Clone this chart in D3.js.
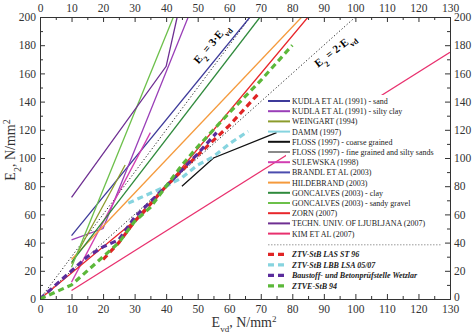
<!DOCTYPE html>
<html>
<head>
<meta charset="utf-8">
<script src="https://cdn.jsdelivr.net/npm/d3@7"></script>
<style>
  body { margin: 0; background: #fff; }
  svg { font-family: "Liberation Serif", "Times New Roman", serif; }
</style>
</head>
<body>
<script>
// data, [Evd, E2] pairs
const kudlaSand = [[10, 45], [66.6, 200]];
const kudlaSilty = [[10, 42], [20, 50], [47, 200]];
const weingart = [[10, 25], [27, 95]];
const damm = [];
const flossCoarse = [[45, 80], [55, 100], [75, 118]];
const flossFine = [];
const sulewska = [[10, 12], [35, 118]];
const brandl = [];
const hildebrand = [[10, 28], [83, 200]];
const goncalvesClay = [[10, 26], [69.8, 200]];
const goncalvesSandy = [[10, 22.5], [42.3, 200]];
const zorn = [[0, 0], [33, 61], [85, 200]];
const ljubljana = [[10, 72], [40, 165], [43.5, 200]];
const kim = [[10, 6], [130, 175]];

const ztvLas = [[20, 28], [25, 40], [30, 55], [40, 80], [50, 102], [60, 123], [69, 145]];
const ztvLbb = [[28, 68], [35, 75], [40, 80], [45, 86], [50, 95], [55, 101], [60, 110], [66, 119]];
const baustoff = [[0, 0], [10, 20], [15, 30], [20, 37], [25, 42], [30, 58], [40, 80], [50, 103], [56, 118]];
const ztve = [[0, 0], [10, 10], [20, 30], [25, 40], [30, 55], [35, 65], [40, 80], [45, 95], [50, 108], [60, 132], [70, 155], [80, 180]];

const ratio3 = [[0, 0], [66.7, 200]];
const ratio2 = [[0, 0], [100, 200]];

const xTicks = d3.range(0, 131, 10);
const yTicks = d3.range(0, 201, 20);

const solidSeries = [
  { name: "KUDLA ET AL (1991) - sand", data: kudlaSand, color: "#3d3a9a" },
  { name: "KUDLA ET AL (1991) - silty clay", data: kudlaSilty, color: "#9a3fb8" },
  { name: "WEINGART (1994)", data: weingart, color: "#8c9c2c" },
  { name: "DAMM (1997)", data: damm, color: "#86d4df" },
  { name: "FLOSS (1997) - coarse grained", data: flossCoarse, color: "#111111" },
  { name: "FLOSS (1997) - fine grained and silty sands", data: flossFine, color: "#8a8a8a" },
  { name: "SULEWSKA (1998)", data: sulewska, color: "#d23fb2" },
  { name: "BRANDL ET AL (2003)", data: brandl, color: "#4b4cae" },
  { name: "HILDEBRAND (2003)", data: hildebrand, color: "#f59a3c" },
  { name: "GONCALVES (2003) - clay", data: goncalvesClay, color: "#2f8a3c" },
  { name: "GONCALVES (2003) - sandy gravel", data: goncalvesSandy, color: "#6cc04a" },
  { name: "ZORN (2007)", data: zorn, color: "#e8262b" },
  { name: "TECHN. UNIV. OF LJUBLJANA (2007)", data: ljubljana, color: "#6e2f92" },
  { name: "KIM ET AL (2007)", data: kim, color: "#e8306e" }
];

const dashedSeries = [
  { name: "ZTV-StB LAS ST 96", data: ztvLas, color: "#e02424" },
  { name: "ZTV-StB LBB LSA 05/07", data: ztvLbb, color: "#86d4df" },
  { name: "Baustoff- und Betonprüfstelle Wetzlar", data: baustoff, color: "#5a2c9c" },
  { name: "ZTVE-StB 94", data: ztve, color: "#5cb83a" }
];

const width = 474, height = 335;
const margin = { top: 17, right: 24, bottom: 36, left: 40 };

const x = d3.scaleLinear().domain([0, 130]).range([margin.left, width - margin.right]);
const y = d3.scaleLinear().domain([0, 200]).range([height - margin.bottom, margin.top]);

const svg = d3.select("body").append("svg")
  .attr("width", width)
  .attr("height", height);

svg.append("clipPath").attr("id", "plot")
  .append("rect")
  .attr("x", x(0)).attr("y", y(200))
  .attr("width", x(130) - x(0)).attr("height", y(0) - y(200));

const line = d3.line().x(d => x(d[0])).y(d => y(d[1]));
const g = svg.append("g").attr("clip-path", "url(#plot)");

// ratio lines
g.selectAll(".ratio")
  .data([ratio3, ratio2])
  .join("path")
  .attr("d", line)
  .attr("fill", "none")
  .attr("stroke", "#222")
  .attr("stroke-width", 1)
  .attr("stroke-dasharray", "1.2,2.2");

g.selectAll(".solid")
  .data(solidSeries.filter(s => s.data.length))
  .join("path")
  .attr("d", d => line(d.data))
  .attr("fill", "none")
  .attr("stroke", d => d.color)
  .attr("stroke-width", 1.3);

g.selectAll(".dashed")
  .data(dashedSeries)
  .join("path")
  .attr("d", d => line(d.data))
  .attr("fill", "none")
  .attr("stroke", d => d.color)
  .attr("stroke-width", 3.2)
  .attr("stroke-dasharray", "6,4");

// ratio labels
function ratioLabel(cx, cy, angle, k) {
  const t = svg.append("text")
    .attr("transform", `translate(${cx},${cy}) rotate(${angle})`)
    .attr("text-anchor", "middle")
    .attr("font-size", 11)
    .attr("font-weight", "bold");
  t.append("tspan").text("E");
  t.append("tspan").attr("baseline-shift", "sub").attr("font-size", 8).text("2");
  t.append("tspan").text(` = ${k}·E`);
  t.append("tspan").attr("baseline-shift", "sub").attr("font-size", 8).text("vd");
}
ratioLabel(214, 46, -50, 3);
ratioLabel(337, 53, -38, 2);

// axes
const fmt = d3.format("d");
function styleAxis(a) {
  a.select(".domain").attr("stroke", "#333");
  a.selectAll(".tick line").attr("stroke", "#333");
  a.selectAll("text").attr("font-size", 11.5).attr("fill", "#333")
    .attr("font-family", "Liberation Serif, serif");
}
const minorX = d3.range(5, 130, 10);
const minorY = d3.range(10, 200, 20);

[["bottom", d3.axisBottom, y(0)], ["top", d3.axisTop, y(200)]].forEach(([k, ax, ty]) => {
  const a = svg.append("g").attr("transform", `translate(0,${ty})`)
    .call(ax(x).tickValues(xTicks).tickFormat(fmt).tickSize(-5).tickPadding(k === "bottom" ? 6 : 5));
  styleAxis(a);
  svg.append("g").attr("transform", `translate(0,${ty})`)
    .call(ax(x).tickValues(minorX).tickFormat("").tickSize(-3))
    .call(s => s.select(".domain").remove())
    .selectAll("line").attr("stroke", "#333");
});
[["left", d3.axisLeft, x(0)], ["right", d3.axisRight, x(130)]].forEach(([k, ax, tx]) => {
  const a = svg.append("g").attr("transform", `translate(${tx},0)`)
    .call(ax(y).tickValues(yTicks).tickFormat(fmt).tickSize(-5).tickPadding(4));
  styleAxis(a);
  if (k === "right") a.selectAll(".tick").filter(d => d === 0).select("text").attr("dy", "0.1em");
  svg.append("g").attr("transform", `translate(${tx},0)`)
    .call(ax(y).tickValues(minorY).tickFormat("").tickSize(-3))
    .call(s => s.select(".domain").remove())
    .selectAll("line").attr("stroke", "#333");
});

// axis titles
const xt = svg.append("text")
  .attr("x", 244).attr("y", 327)
  .attr("text-anchor", "middle")
  .attr("font-size", 14).attr("fill", "#333");
xt.append("tspan").text("E");
xt.append("tspan").attr("baseline-shift", "sub").attr("font-size", 9).text("vd");
xt.append("tspan").attr("baseline-shift", "baseline").text(", N/mm");
xt.append("tspan").attr("baseline-shift", "super").attr("font-size", 9).text("2");

const yt = svg.append("text")
  .attr("transform", "translate(15,150) rotate(-90)")
  .attr("text-anchor", "middle")
  .attr("font-size", 14).attr("fill", "#333");
yt.append("tspan").text("E");
yt.append("tspan").attr("baseline-shift", "sub").attr("font-size", 10).text("2");
yt.append("tspan").text(", N/mm");
yt.append("tspan").attr("baseline-shift", "super").attr("font-size", 10).text("2");

// legend
const lx = 268, ly = 101, step = 10.2;
svg.append("rect")
  .attr("x", 286).attr("y", 95)
  .attr("width", 158).attr("height", 197)
  .attr("fill", "#fff");

const leg = svg.append("g");
solidSeries.forEach((s, i) => {
  const yy = ly + i * step;
  leg.append("line").attr("x1", lx).attr("x2", lx + 22).attr("y1", yy).attr("y2", yy)
    .attr("stroke", s.color).attr("stroke-width", 2);
  leg.append("text").attr("x", lx + 24).attr("y", yy + 3)
    .attr("font-size", 8).attr("fill", "#222").text(s.name);
});
const sepY = ly + 14 * step + 1;
leg.append("line").attr("x1", lx).attr("x2", 441).attr("y1", sepY).attr("y2", sepY)
  .attr("stroke", "#555").attr("stroke-width", 0.6).attr("stroke-dasharray", "1.5,1.5");
dashedSeries.forEach((s, i) => {
  const yy = sepY + 9.5 + i * 10.5;
  leg.append("line").attr("x1", lx).attr("x2", lx + 20).attr("y1", yy).attr("y2", yy)
    .attr("stroke", s.color).attr("stroke-width", 3.2).attr("stroke-dasharray", "6,4");
  leg.append("text").attr("x", lx + 24).attr("y", yy + 3)
    .attr("font-size", 8).attr("font-style", "italic").attr("font-weight", "bold")
    .attr("fill", "#222").text(s.name);
});
</script>
</body>
</html>
